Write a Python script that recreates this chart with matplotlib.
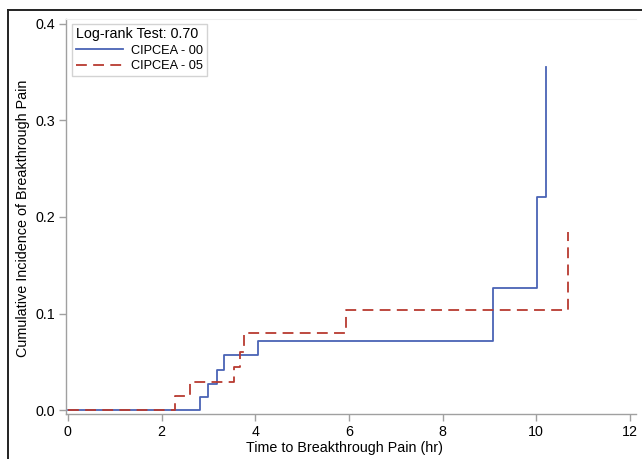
import matplotlib
matplotlib.use("Agg")
import matplotlib.pyplot as plt
from matplotlib.lines import Line2D

plt.rcParams['font.family'] = ['Liberation Sans', 'DejaVu Sans']

# Data
group_labels = ["CIPCEA - 00", "CIPCEA - 05"]
legend_title = "Log-rank Test: 0.70"

blue_times = [0, 2.82, 3.00, 3.18, 3.34, 4.05, 9.08, 10.01, 10.20]
blue_vals = [0, 0.0135, 0.0275, 0.042, 0.057, 0.072, 0.126, 0.221, 0.355]

red_times = [0, 2.28, 2.60, 3.55, 3.68, 3.75, 5.93, 10.67]
red_vals = [0, 0.0145, 0.029, 0.045, 0.060, 0.080, 0.104, 0.184]

x_ticks = [0, 2, 4, 6, 8, 10, 12]
y_ticks = [0.0, 0.1, 0.2, 0.3, 0.4]

W, H = 642, 459
fig = plt.figure(figsize=(W / 100, H / 100), dpi=100)
ax_left, ax_right, ax_top, ax_bottom = 66, 636, 19, 414
ax = fig.add_axes([ax_left / W, 1 - ax_bottom / H,
                   (ax_right - ax_left) / W, (ax_bottom - ax_top) / H])

blue = '#4a63b5'
red = '#b83a30'
ax.step(blue_times, blue_vals, where='post', color=blue, lw=1.3)
ax.step(red_times, red_vals, where='post', color=red, lw=1.3,
        dashes=(6, 3.5))

ax.set_xlim(-0.04, 12.13)
ax.set_ylim(-0.004, 0.405)
ax.set_xticks(x_ticks)
ax.set_xticklabels([str(t) for t in x_ticks])
ax.set_yticks(y_ticks)
ax.set_yticklabels([f"{t:.1f}" for t in y_ticks])

grey = '#a0a0a0'
for s in ['left', 'bottom']:
    ax.spines[s].set_color(grey)
    ax.spines[s].set_linewidth(1.0)
ax.spines['right'].set_visible(False)
ax.spines['top'].set_color('#eeeeee')
ax.tick_params(axis='both', colors=grey, length=5, width=1.0,
               labelsize=10.3, labelcolor='black', direction='out', pad=3)

ax.set_xlabel("Time to Breakthrough Pain (hr)", fontsize=10.3)
ax.xaxis.set_label_coords((345 - ax_left) / (ax_right - ax_left),
                          -(448 - ax_bottom) / (ax_bottom - ax_top))
ax.xaxis.label.set_va('center')
ax.set_ylabel("Cumulative Incidence of Breakthrough Pain", fontsize=10.4)
ax.yaxis.set_label_coords(-(ax_left - 23) / (ax_right - ax_left),
                          (ax_bottom - 218) / (ax_bottom - ax_top))
ax.yaxis.label.set_va('center')

handles = [Line2D([], [], color=blue, lw=1.3),
           Line2D([], [], color=red, lw=1.3, dashes=(6, 3.5))]
leg = ax.legend(handles, group_labels, title=legend_title,
                loc='upper left', bbox_to_anchor=(72 / W, 1 - 23.5 / H),
                bbox_transform=fig.transFigure, fontsize=9.2,
                title_fontsize=10.3, alignment='left', frameon=True,
                fancybox=False, handlelength=3.7, handletextpad=0.65,
                borderpad=0.3, labelspacing=0.28, borderaxespad=0)
leg.get_frame().set_edgecolor('#c8c8c8')
leg.get_frame().set_linewidth(1.0)

# Outer frame lines (left and top)
fig.add_artist(Line2D([8 / W, 8 / W], [0, 1 - 10 / H], color='#222222',
                      lw=1.4, transform=fig.transFigure))
fig.add_artist(Line2D([8 / W, 1], [1 - 10 / H, 1 - 10 / H], color='#222222',
                      lw=1.4, transform=fig.transFigure))

fig.savefig("out.png", dpi=100)
